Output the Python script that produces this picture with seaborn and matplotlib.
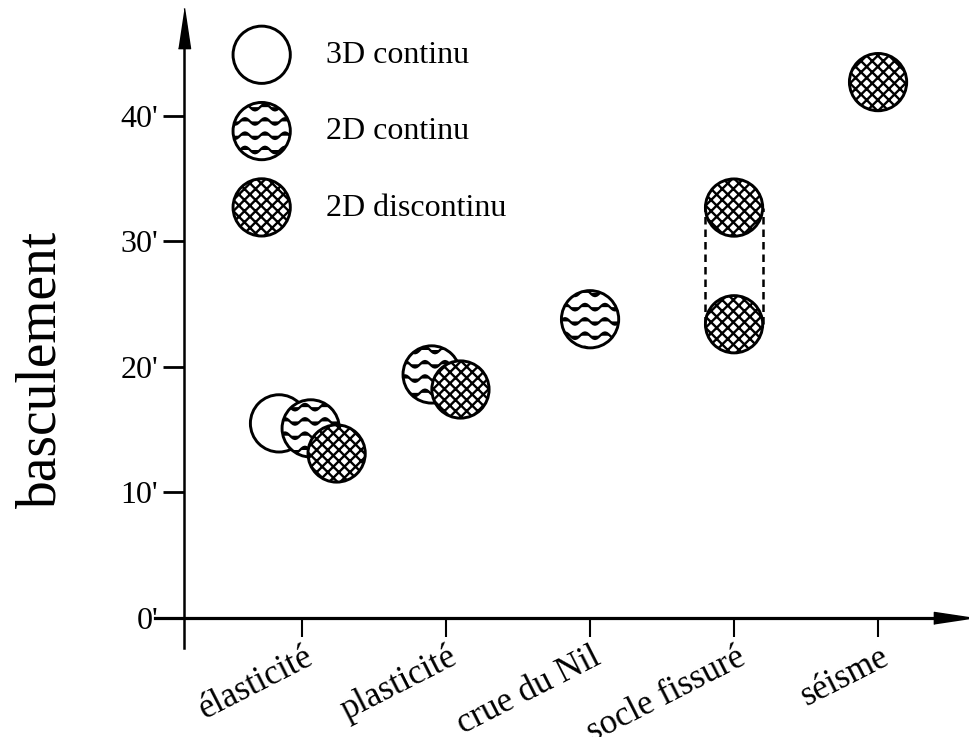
import warnings
import numpy as np
import pandas as pd
import seaborn as sns
import matplotlib.pyplot as plt
import matplotlib.hatch as mhatch
from matplotlib.path import Path
from matplotlib.transforms import ScaledTranslation

warnings.filterwarnings("ignore")

# categories on the x axis
categories = ["élasticité", "plasticité", "crue du Nil", "socle fissuré", "séisme"]

# one entry per circle
point_cat = ["élasticité", "élasticité", "élasticité", "plasticité", "plasticité",
             "crue du Nil", "socle fissuré", "socle fissuré", "séisme"]
point_model = ["3D continu", "2D continu", "2D discontinu", "2D continu", "2D discontinu",
               "2D continu", "2D discontinu", "2D discontinu", "2D discontinu"]
point_value = [15.5, 15.1, 13.1, 19.4, 18.2, 23.8, 32.7, 23.4, 42.7]
# small sideways shift so overlapping circles stay visible
point_shift = [-0.16, 0.06, 0.24, -0.10, 0.10, 0.0, 0.0, 0.0, 0.0]

models = ["3D continu", "2D continu", "2D discontinu"]
yticks = [0, 10, 20, 30, 40]
ytick_labels = ["0'", "10'", "20'", "30'", "40'"]


# wavy hatch ("~") for the 2D continu circles
class WaveHatch(mhatch.HatchPatternBase):
    def __init__(self, hatch, density):
        self.num_lines = int(hatch.count("~") * density * 7 / 6)
        self.num_seg = 60
        self.num_vertices = self.num_lines * (self.num_seg + 1)

    def set_vertices_and_codes(self, vertices, codes):
        t = np.linspace(0, 1, self.num_seg + 1)
        wave = 0.032 * np.sin(2 * np.pi * 5 * t)
        offsets = (np.arange(self.num_lines) + 0.5) / self.num_lines
        n = self.num_seg + 1
        for i, off in enumerate(offsets):
            vertices[i * n:(i + 1) * n, 0] = t
            vertices[i * n:(i + 1) * n, 1] = off + wave
            codes[i * n:(i + 1) * n] = Path.LINETO
            codes[i * n] = Path.MOVETO


mhatch._hatch_types.append(WaveHatch)

sns.set_style("white")
plt.rcParams["font.family"] = ["Liberation Serif", "DejaVu Serif"]
plt.rcParams["hatch.linewidth"] = 1.7
plt.rcParams["text.color"] = "black"
plt.rcParams["axes.labelcolor"] = "black"
plt.rcParams["xtick.color"] = "black"
plt.rcParams["ytick.color"] = "black"

df = pd.DataFrame({"cat": point_cat, "model": point_model,
                   "value": point_value, "shift": point_shift})
df["x"] = df["cat"].map({c: i for i, c in enumerate(categories)}) + df["shift"]

fig = plt.figure(figsize=(9.69, 7.37), dpi=100)
ax = fig.add_axes([0.16, 0.1208, 0.8246, 0.841])

hatches = {"3D continu": "", "2D continu": "~", "2D discontinu": "xxx"}
for m in models:
    sub = df[df["model"] == m]
    sns.scatterplot(data=sub, x="x", y="value", ax=ax, s=1700, color="white",
                    edgecolor="black", linewidth=2.1, hatch=hatches[m],
                    label=m, zorder=3)

# dashed range for socle fissuré
sf = df[df["cat"] == "socle fissuré"]
xc = categories.index("socle fissuré")
for dx in (-0.2, 0.2):
    ax.plot([xc + dx, xc + dx], [sf["value"].min(), sf["value"].max()],
            ls=(0, (3, 2)), color="black", lw=1.8, zorder=2)

ax.set_xlim(-1.021, 4.528)
ax.set_ylim(-2.4, 47.0)

for s in ["top", "right"]:
    ax.spines[s].set_visible(False)
ax.spines["left"].set_position(("data", -0.819))
ax.spines["bottom"].set_position(("data", 0))
ax.spines["left"].set_linewidth(1.8)
ax.spines["bottom"].set_linewidth(2.3)
ax.spines["left"].set_color("black")
ax.spines["bottom"].set_color("black")

arrow_up = [(-0.3, -1), (0.3, -1), (0, 1)]
arrow_right = [(-1, -0.3), (-1, 0.3), (1, 0)]
ax.plot(-0.819, 1, marker=arrow_up, ms=29, color="black",
        transform=ax.get_xaxis_transform(), clip_on=False)
ax.plot(1, 0, marker=arrow_right, ms=29, color="black",
        transform=ax.get_yaxis_transform(), clip_on=False)

ax.set_yticks(yticks)
ax.set_yticklabels(ytick_labels)
ax.set_xticks(range(len(categories)))
ax.set_xticklabels(categories, rotation=27, ha="right", va="center",
                   rotation_mode="anchor")
ax.tick_params(axis="y", left=True, direction="out", length=15, width=2,
               pad=3.6, labelsize=23)
ax.tick_params(axis="x", bottom=True, direction="out", length=14, width=1.5,
               pad=13, labelsize=25)
shift = ScaledTranslation(0.09, 0, fig.dpi_scale_trans)
for lab in ax.get_xticklabels():
    lab.set_transform(lab.get_transform() + shift)
ax.grid(False)

ax.set_xlabel("")
ax.set_ylabel("basculement", fontsize=40)
ax.yaxis.set_label_coords(-0.11, 0.449)

ax.legend(loc="upper left", bbox_to_anchor=(0.0575, 1.026), frameon=False,
          fontsize=23, labelspacing=1.47, handletextpad=1.02, markerscale=1)

fig.savefig("out.png", dpi=100)
